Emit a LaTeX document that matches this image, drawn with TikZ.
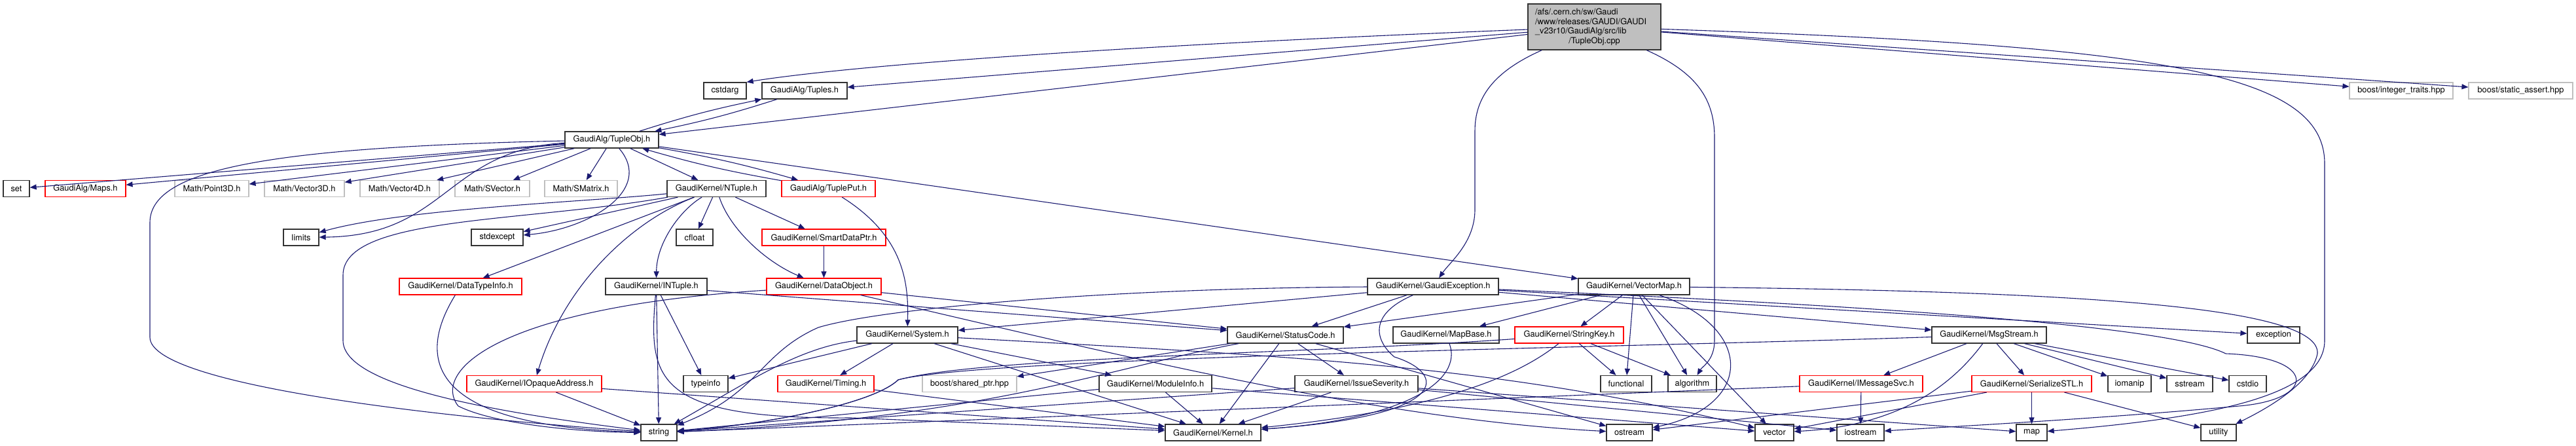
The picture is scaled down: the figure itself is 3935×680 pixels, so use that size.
\documentclass[tikz,border=0pt]{standalone}
\usepackage{fontspec}
\setmainfont{TeX Gyre Heros}
\usetikzlibrary{arrows.meta}

\definecolor{edgeblue}{HTML}{191970}
\definecolor{rootgrey}{HTML}{BFBFBF}
\definecolor{extgrey}{HTML}{BFBFBF}
\definecolor{truncred}{HTML}{FF0000}

\begin{document}
\begin{tikzpicture}[x=1pt, y=-1pt,
    box/.style = {draw, rectangle, minimum height=25pt, inner sep=0pt, font=\fontsize{12.8}{14.7}\selectfont},
    doc/.style = {box, draw=black!80, line width=1.3pt},
    trunc/.style = {box, draw=truncred, line width=1.1pt},
    ext/.style = {box, draw=extgrey, line width=1.1pt},
    inc/.style = {draw=edgeblue, line width=1.1pt, -{Triangle[length=10pt,width=8pt]}}]

    \useasboundingbox (0,0) rectangle (3935,680);

    % Nodes
    \node[doc, fill=rootgrey, minimum width=203, minimum height=70] (root) at (2435.5,41)
        {\parbox{181pt}{\raggedright /afs/.cern.ch/sw/Gaudi\\/www/releases/GAUDI/GAUDI\\\_v23r10/GaudiAlg/src/lib\par\centering /TupleObj.cpp\par}};

    \node[doc, minimum width=65] (cstdarg) at (1107.5,138.5) {cstdarg};
    \node[doc, minimum width=130] (tuples) at (1229,138.5) {GaudiAlg/Tuples.h};
    \node[ext, minimum width=158] (intt) at (3668,138.5) {boost/integer\_traits.hpp};
    \node[ext, minimum width=159] (sassert) at (3850.5,138.5) {boost/static\_assert.hpp};

    \node[doc, minimum width=143] (tupleobj) at (934.5,213.5) {GaudiAlg/TupleObj.h};

    \node[doc, minimum width=40] (set) at (25,288) {set};
    \node[trunc, minimum width=123] (maps) at (130.5,288) {GaudiAlg/Maps.h};
    \node[ext, minimum width=113] (point3d) at (323.5,288) {Math/Point3D.h};
    \node[ext, minimum width=122] (vector3d) at (465,288) {Math/Vector3D.h};
    \node[ext, minimum width=121] (vector4d) at (610.5,288) {Math/Vector4D.h};
    \node[ext, minimum width=114] (svector) at (752,288) {Math/SVector.h};
    \node[ext, minimum width=111] (smatrix) at (887.5,288) {Math/SMatrix.h};
    \node[doc, minimum width=151] (ntuple) at (1094.5,288) {GaudiKernel/NTuple.h};
    \node[trunc, minimum width=143] (tupleput) at (1265.5,288) {GaudiAlg/TuplePut.h};

    \node[doc, minimum width=54] (limits) at (460,362.5) {limits};
    \node[doc, minimum width=79] (stdexcept) at (759.5,362.5) {stdexcept};
    \node[doc, minimum width=56] (cfloat) at (1061,362.5) {cfloat};
    \node[trunc, minimum width=189] (smartptr) at (1258.5,362.5) {GaudiKernel/SmartDataPtr.h};

    \node[trunc, minimum width=187] (datatype) at (703.5,437.5) {GaudiKernel/DataTypeInfo.h};
    \node[doc, minimum width=155] (intuple) at (1002.5,437.5) {GaudiKernel/INTuple.h};
    \node[trunc, minimum width=175] (dataobj) at (1258.5,437.5) {GaudiKernel/DataObject.h};
    \node[doc, minimum width=200] (gexc) at (2189,437.5) {GaudiKernel/GaudiException.h};
    \node[doc, minimum width=170] (vmap) at (2496,437.5) {GaudiKernel/VectorMap.h};

    \node[doc, minimum width=154] (system) at (1386,511.5) {GaudiKernel/System.h};
    \node[doc, minimum width=177] (status) at (1963.5,511.5) {GaudiKernel/StatusCode.h};
    \node[doc, minimum width=162] (mapbase) at (2209,511.5) {GaudiKernel/MapBase.h};
    \node[trunc, minimum width=166] (strkey) at (2397,511.5) {GaudiKernel/StringKey.h};
    \node[doc, minimum width=175] (msgstream) at (3038.5,511.5) {GaudiKernel/MsgStream.h};
    \node[doc, minimum width=80] (exception) at (3473,511.5) {exception};

    \node[trunc, minimum width=206] (iopaque) at (816,586) {GaudiKernel/IOpaqueAddress.h};
    \node[doc, minimum width=68] (typeinfo) at (1078,586) {typeinfo};
    \node[trunc, minimum width=147] (timing) at (1261.5,586) {GaudiKernel/Timing.h};
    \node[ext, minimum width=144] (sharedptr) at (1481,586) {boost/shared\_ptr.hpp};
    \node[doc, minimum width=172] (modinfo) at (1765,586) {GaudiKernel/ModuleInfo.h};
    \node[doc, minimum width=188] (issue) at (2072,586) {GaudiKernel/IssueSeverity.h};
    \node[doc, minimum width=78] (functional) at (2484,586) {functional};
    \node[doc, minimum width=74] (algorithm) at (2585,586) {algorithm};
    \node[trunc, minimum width=188] (imsgsvc) at (2843,586) {GaudiKernel/IMessageSvc.h};
    \node[trunc, minimum width=183] (serial) at (3103.5,586) {GaudiKernel/SerializeSTL.h};
    \node[doc, minimum width=66] (iomanip) at (3253,586) {iomanip};
    \node[doc, minimum width=70] (sstream) at (3345,586) {sstream};
    \node[doc, minimum width=57] (cstdio) at (3433.5,586) {cstdio};

    \node[doc, minimum width=55] (string) at (1006.5,660.5) {string};
    \node[doc, minimum width=146] (kernel) at (1853,660.5) {GaudiKernel/Kernel.h};
    \node[doc, minimum width=70] (ostream) at (2489,660.5) {ostream};
    \node[doc, minimum width=59] (vector) at (2710.5,660.5) {vector};
    \node[doc, minimum width=72] (iostream) at (2842,660.5) {iostream};
    \node[doc, minimum width=47] (map) at (3103.5,660.5) {map};
    \node[doc, minimum width=54] (utility) at (3389,660.5) {utility};

    % Edges from the source file
    \draw[inc] (root) .. controls (1700,70) and (1300,100) .. (cstdarg.north east);
    \draw[inc] (root) -- (tuples);
    \draw[inc] (root) -- (tupleobj);
    \draw[inc] (root) .. controls (2280,110) and (2253,150) .. (2253,200) -- (2253,320) .. controls (2253,370) and (2215,400) .. (gexc);
    \draw[inc] (root) .. controls (2590,110) and (2619,150) .. (2619,210) -- (2619,520) .. controls (2619,550) and (2600,560) .. (algorithm);
    \draw[inc] (root) -- (intt);
    \draw[inc] (root) -- (sassert);
    \draw[inc] (root) .. controls (3300,70) and (3551,110) .. (3551,250) -- (3551,520) .. controls (3551,610) and (3350,640) .. (map);

    % GaudiAlg headers
    \draw[inc] (tuples) to[bend left=3] (tupleobj);
    \draw[inc] (tupleobj) to[bend left=3] (tuples);
    \draw[inc] (tupleobj) -- (set);
    \draw[inc] (tupleobj) -- (maps);
    \draw[inc] (tupleobj) -- (point3d);
    \draw[inc] (tupleobj) -- (vector3d);
    \draw[inc] (tupleobj) -- (vector4d);
    \draw[inc] (tupleobj) -- (svector);
    \draw[inc] (tupleobj) -- (smatrix);
    \draw[inc] (tupleobj) -- (ntuple);
    \draw[inc] (tupleobj) to[bend left=3] (tupleput);
    \draw[inc] (tupleput) to[bend left=3] (tupleobj);
    \draw[inc] (tupleobj) .. controls (680,230) and (683,360) .. (limits);
    \draw[inc] (tupleobj) .. controls (1000,290) and (900,350) .. (stdexcept);
    \draw[inc] (tupleobj) -- (vmap);
    \draw[inc] (tupleobj) .. controls (400,225) and (229,260) .. (229,340) -- (229,515) .. controls (229,590) and (700,640) .. (string);
    \draw[inc] (tupleput) .. controls (1380,360) and (1388,430) .. (system);

    % NTuple
    \draw[inc] (ntuple) .. controls (900,308) and (620,318) .. (limits);
    \draw[inc] (ntuple) -- (stdexcept);
    \draw[inc] (ntuple) -- (cfloat);
    \draw[inc] (ntuple) -- (smartptr);
    \draw[inc] (ntuple) -- (datatype);
    \draw[inc] (ntuple) .. controls (1040,320) and (1003,370) .. (intuple);
    \draw[inc] (ntuple) .. controls (1115,350) and (1170,400) .. (dataobj);
    \draw[inc] (ntuple) .. controls (960,340) and (860,440) .. (iopaque);
    \draw[inc] (ntuple) .. controls (800,340) and (524,330) .. (524,420) -- (524,520) .. controls (524,590) and (760,630) .. (string);
    \draw[inc] (smartptr) -- (dataobj);
    \draw[inc] (datatype) .. controls (640,540) and (640,650) .. (string);
    \draw[inc] (intuple) -- (typeinfo);
    \draw[inc] (intuple) -- (string);
    \draw[inc] (intuple) -- (status);
    \draw[inc] (intuple) .. controls (990,580) and (1000,640) .. (1300,638) -- (kernel);
    \draw[inc] (dataobj) .. controls (750,470) and (660,570) .. (700,620) .. controls (760,650) and (900,660) .. (string);
    \draw[inc] (dataobj) -- (status);
    \draw[inc] (dataobj) .. controls (1700,540) and (2100,640) .. (ostream);
    \draw[inc] (iopaque) -- (string);
    \draw[inc] (iopaque) -- (kernel);

    % GaudiException and VectorMap
    \draw[inc] (gexc) .. controls (1700,440) and (1350,470) .. (1250,500) .. controls (1160,540) and (1160,600) .. (string);
    \draw[inc] (gexc) -- (system);
    \draw[inc] (gexc) -- (status);
    \draw[inc] (gexc) .. controls (2090,480) and (2100,520) .. (2130,545) .. controls (2210,570) and (2220,635) .. (kernel);
    \draw[inc] (gexc) -- (msgstream);
    \draw[inc] (gexc) -- (exception);
    \draw[inc] (gexc) .. controls (2700,460) and (3300,490) .. (3400,540) .. controls (3540,545) and (3540,610) .. (3420,620) .. controls (3200,640) and (3000,650) .. (iostream);
    \draw[inc] (vmap) -- (status);
    \draw[inc] (vmap) -- (mapbase);
    \draw[inc] (vmap) -- (strkey);
    \draw[inc] (vmap) -- (functional);
    \draw[inc] (vmap) -- (algorithm);
    \draw[inc] (vmap) -- (vector);
    \draw[inc] (vmap) .. controls (2680,500) and (2680,620) .. (ostream);
    \draw[inc] (vmap) .. controls (3200,445) and (3545,470) .. (3540,540) .. controls (3530,590) and (3450,630) .. (utility);

    % GaudiKernel headers
    \draw[inc] (system) .. controls (1220,530) and (1140,585) .. (string);
    \draw[inc] (system) -- (typeinfo);
    \draw[inc] (system) -- (timing);
    \draw[inc] (system) -- (kernel);
    \draw[inc] (system) -- (modinfo);
    \draw[inc] (system) .. controls (2000,545) and (2300,560) .. (vector);
    \draw[inc] (status) -- (sharedptr);
    \draw[inc] (status) -- (kernel);
    \draw[inc] (status) -- (issue);
    \draw[inc] (status) -- (ostream);
    \draw[inc] (status) .. controls (1700,560) and (1500,640) .. (string);
    \draw[inc] (mapbase) .. controls (2235,580) and (2150,640) .. (kernel);
    \draw[inc] (strkey) .. controls (2300,590) and (2150,630) .. (kernel);
    \draw[inc] (strkey) .. controls (2000,540) and (1500,545) .. (1372,580) .. controls (1330,620) and (1150,650) .. (string);
    \draw[inc] (strkey) -- (functional);
    \draw[inc] (strkey) -- (algorithm);
    \draw[inc] (msgstream) -- (imsgsvc);
    \draw[inc] (msgstream) -- (serial);
    \draw[inc] (msgstream) -- (iomanip);
    \draw[inc] (msgstream) -- (sstream);
    \draw[inc] (msgstream) -- (cstdio);
    \draw[inc] (msgstream) .. controls (2980,590) and (2900,650) .. (vector);
    \draw[inc] (msgstream) .. controls (2500,530) and (1500,545) .. (1372,580) .. controls (1330,620) and (1150,650) .. (string);
    \draw[inc] (imsgsvc) -- (iostream);
    \draw[inc] (imsgsvc) -- (string);
    \draw[inc] (serial) -- (vector);
    \draw[inc] (serial) -- (map);
    \draw[inc] (serial) -- (utility);
    \draw[inc] (serial) -- (ostream);
    \draw[inc] (issue) -- (kernel);
    \draw[inc] (issue) -- (string);
    \draw[inc] (issue) -- (map);
    \draw[inc] (issue) -- (iostream);
    \draw[inc] (modinfo) -- (kernel);
    \draw[inc] (modinfo) -- (string);
    \draw[inc] (modinfo) -- (vector);
    \draw[inc] (timing) -- (kernel);

\end{tikzpicture}
\end{document}
